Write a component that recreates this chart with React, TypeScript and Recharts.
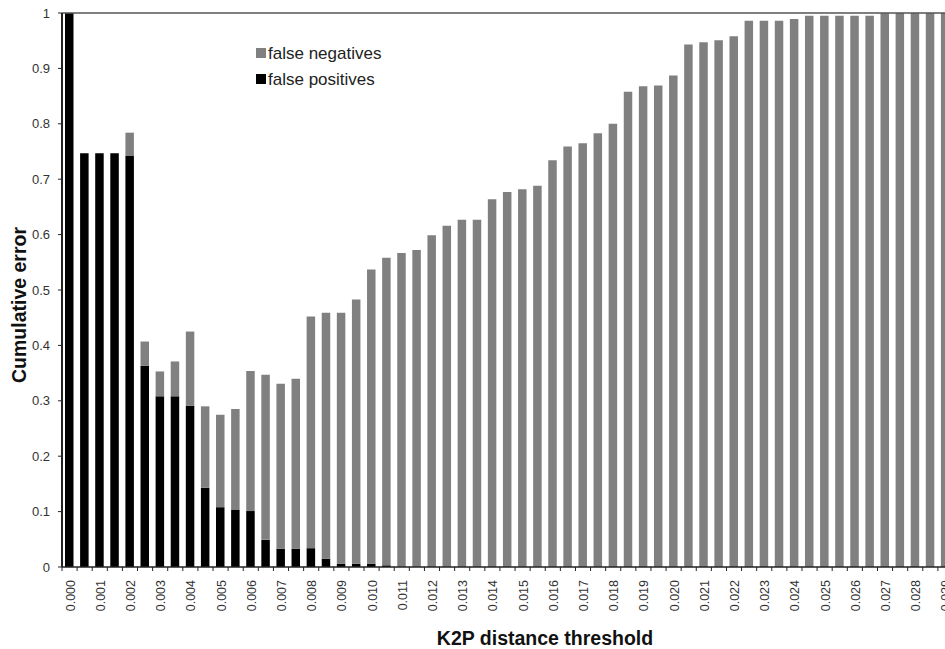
import React from "react";
import { BarChart, Bar, XAxis, YAxis, ReferenceLine } from "recharts";

// K2P distance thresholds, one bar per 0.0005
const thresholds = [
  "0.0000", "0.0005", "0.0010", "0.0015", "0.0020", "0.0025", "0.0030", "0.0035", "0.0040", "0.0045",
  "0.0050", "0.0055", "0.0060", "0.0065", "0.0070", "0.0075", "0.0080", "0.0085", "0.0090", "0.0095",
  "0.0100", "0.0105", "0.0110", "0.0115", "0.0120", "0.0125", "0.0130", "0.0135", "0.0140", "0.0145",
  "0.0150", "0.0155", "0.0160", "0.0165", "0.0170", "0.0175", "0.0180", "0.0185", "0.0190", "0.0195",
  "0.0200", "0.0205", "0.0210", "0.0215", "0.0220", "0.0225", "0.0230", "0.0235", "0.0240", "0.0245",
  "0.0250", "0.0255", "0.0260", "0.0265", "0.0270", "0.0275", "0.0280", "0.0285", "0.0290",
];

// labels shown under every other bar
const xTickLabels = [
  "0.000", "0.001", "0.002", "0.003", "0.004", "0.005", "0.006", "0.007", "0.008", "0.009",
  "0.010", "0.011", "0.012", "0.013", "0.014", "0.015", "0.016", "0.017", "0.018", "0.019",
  "0.020", "0.021", "0.022", "0.023", "0.024", "0.025", "0.026", "0.027", "0.028", "0.029",
];

const falsePositives = [
  1.0, 0.747, 0.747, 0.747, 0.743, 0.363, 0.308, 0.308, 0.291, 0.143,
  0.108, 0.103, 0.101, 0.049, 0.033, 0.033, 0.034, 0.015, 0.006, 0.006,
  0.006, 0.003, 0, 0, 0, 0, 0, 0, 0, 0,
  0, 0, 0, 0, 0, 0, 0, 0, 0, 0,
  0, 0, 0, 0, 0, 0, 0, 0, 0, 0,
  0, 0, 0, 0, 0, 0, 0, 0, 0,
];

const falseNegatives = [
  0, 0, 0, 0, 0.041, 0.044, 0.045, 0.063, 0.134, 0.147,
  0.167, 0.182, 0.253, 0.298, 0.298, 0.307, 0.418, 0.444, 0.453, 0.477,
  0.531, 0.555, 0.567, 0.572, 0.599, 0.616, 0.627, 0.627, 0.664, 0.677,
  0.682, 0.688, 0.734, 0.759, 0.765, 0.783, 0.8, 0.858, 0.868, 0.869,
  0.887, 0.943, 0.947, 0.951, 0.958, 0.986, 0.986, 0.986, 0.989, 0.995,
  0.995, 0.995, 0.995, 0.995, 1.0, 1.0, 1.0, 1.0, 1.0,
];

const yTicks = [0, 0.1, 0.2, 0.3, 0.4, 0.5, 0.6, 0.7, 0.8, 0.9, 1];

const seriesNames = { fp: "false positives", fn: "false negatives" };
const seriesColors = { fp: "#000000", fn: "#808080" };

const data = thresholds.map((t, i) => ({
  threshold: t,
  fp: falsePositives[i],
  fn: falseNegatives[i],
}));

const FONT = "'Liberation Sans', Arial, Helvetica, sans-serif";
const CHART_W = 1000;
const CHART_H = 649;
const Y_AXIS_W = 62;
const RIGHT = 47;
const BAND = (CHART_W - Y_AXIS_W - RIGHT) / thresholds.length;

const XTick = (props: any) => {
  const { x, y, index } = props;
  const half = BAND / 2;
  const label = index % 2 === 0 ? xTickLabels[index / 2] : null;
  return (
    <g>
      <line x1={x - half} x2={x - half} y1={y} y2={y + 4} stroke="#222" strokeWidth={1} />
      {label && (
        <text
          transform={`translate(${x + 0.5},${y + 13}) rotate(-90)`}
          textAnchor="end"
          dy="0.36em"
          fontSize={12.5}
          fontFamily={FONT}
          fill="#333"
        >
          {label}
        </text>
      )}
    </g>
  );
};

export default function App() {
  return (
    <div
      style={{
        position: "absolute",
        left: 0,
        top: 0,
        width: 945,
        height: 649,
        overflow: "hidden",
        background: "#fff",
      }}
    >
      <BarChart
        width={CHART_W}
        height={CHART_H}
        data={data}
        margin={{ top: 13, right: RIGHT, left: 0, bottom: 0 }}
      >
        <XAxis
          dataKey="threshold"
          height={82}
          interval={0}
          tickSize={0}
          tickMargin={0}
          tickLine={false}
          axisLine={{ stroke: "#222", strokeWidth: 1.5 }}
          tick={<XTick />}
          label={() => (
            <text
              x={545}
              y={645}
              textAnchor="middle"
              fontSize={19.5}
              fontWeight="bold"
              fontFamily={FONT}
              fill="#111"
            >
              K2P distance threshold
            </text>
          )}
        />
        <YAxis
          width={Y_AXIS_W}
          domain={[0, 1]}
          ticks={yTicks}
          interval={0}
          tickSize={4}
          tickMargin={8}
          tickFormatter={(v) => String(v)}
          tick={{ fill: "#333", fontSize: 13, fontFamily: FONT }}
          tickLine={{ stroke: "#222" }}
          axisLine={{ stroke: "#222", strokeWidth: 2 }}
          label={() => (
            <text
              transform="translate(25.5,305) rotate(-90)"
              textAnchor="middle"
              fontSize={19.5}
              fontWeight="bold"
              fontFamily={FONT}
              fill="#111"
            >
              Cumulative error
            </text>
          )}
        />
        <ReferenceLine y={1} stroke="#555" strokeWidth={1.5} />
        <Bar
          dataKey="fp"
          name={seriesNames.fp}
          stackId="err"
          fill={seriesColors.fp}
          barSize={8.5}
          isAnimationActive={false}
        />
        <Bar
          dataKey="fn"
          name={seriesNames.fn}
          stackId="err"
          fill={seriesColors.fn}
          barSize={8.5}
          isAnimationActive={false}
        />
      </BarChart>
      <div
        style={{
          position: "absolute",
          left: 256,
          top: 45,
          fontFamily: FONT,
          fontSize: 17,
          lineHeight: "17px",
          color: "#222",
        }}
      >
        {(["fn", "fp"] as const).map((k, i) => (
          <div key={k} style={{ position: "absolute", left: 0, top: i * 26, whiteSpace: "nowrap" }}>
            <span
              style={{
                position: "absolute",
                left: 0,
                top: 3,
                width: 10,
                height: 10,
                background: seriesColors[k],
              }}
            />
            <span style={{ position: "absolute", left: 12, top: 0 }}>{seriesNames[k]}</span>
          </div>
        ))}
      </div>
    </div>
  );
}
